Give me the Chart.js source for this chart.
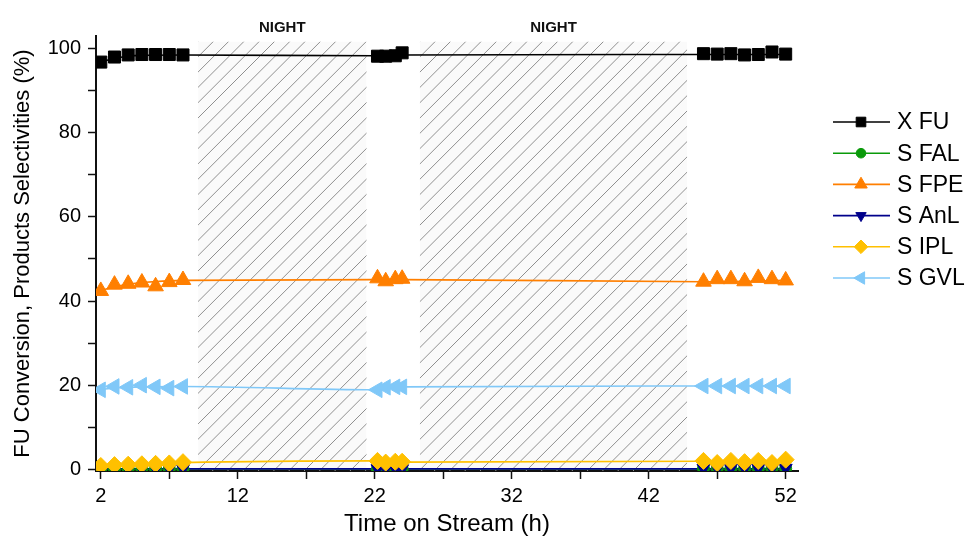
<!DOCTYPE html>
<html>
<head>
<meta charset="utf-8">
<script src="https://cdn.jsdelivr.net/npm/chart.js@4.4.1/dist/chart.umd.min.js"></script>
<style>
  html, body { margin: 0; padding: 0; background: #fff; }
</style>
</head>
<body>
<canvas id="chart" width="969" height="547"></canvas>
<script>
// sampling times (h) of the three day runs
const hours = [2, 3, 4, 5, 6, 7, 8, 22.2, 22.8, 23.5, 24, 46, 47, 48, 49, 50, 51, 52];

// measured points
const xFU  = [96.8, 98.0, 98.5, 98.6, 98.6, 98.6, 98.5, 98.2, 98.2, 98.3, 99.0, 98.8, 98.7, 98.8, 98.5, 98.6, 99.2, 98.7];
const sFAL = [0.1, 0.1, 0.1, 0.1, 0.1, 0.1, 0.1, 0.1, 0.1, 0.1, 0.1, 0.2, 0.2, 0.2, 0.2, 0.2, 0.2, 0.2];
const sFPE = [42.4, 43.9, 44.1, 44.4, 43.5, 44.5, 45.0, 45.4, 44.7, 45.2, 45.3, 44.6, 45.2, 45.2, 44.7, 45.5, 45.2, 44.9];
const sAnL = [0.2, 0.2, 0.2, 0.2, 0.2, 0.2, 0.2, 0.2, 0.2, 0.2, 0.2, 0.3, 0.3, 0.3, 0.3, 0.3, 0.3, 0.3];
const sIPL = [0.8, 1.0, 1.1, 1.2, 1.3, 1.4, 1.7, 2.0, 1.6, 1.8, 1.8, 2.0, 1.5, 2.0, 1.7, 2.0, 1.5, 2.3];
const sGVL = [18.9, 19.7, 19.5, 20.0, 19.6, 19.3, 19.7, 18.9, 19.5, 19.6, 19.6, 19.8, 19.8, 19.8, 19.8, 19.8, 19.8, 19.8];

// smooth trend lines
const fitHours = [2, 3, 4, 5, 8, 22, 24, 46, 52];
const fitFU  = [96.8, 97.7, 98.2, 98.4, 98.5, 98.3, 98.5, 98.6, 98.6];
const fitFAL = [0.1, 0.1, 0.1, 0.1, 0.1, 0.1, 0.1, 0.1, 0.1];
const fitFPE = [42.5, 43.4, 44.0, 44.4, 44.9, 45.1, 45.1, 44.6, 44.9];
const fitAnL = [0.1, 0.1, 0.1, 0.1, 0.1, 0.1, 0.1, 0.1, 0.1];
const fitIPL = [0.8, 1.0, 1.2, 1.3, 1.6, 2.0, 1.7, 1.9, 2.1];
const fitGVL = [19.0, 19.3, 19.5, 19.6, 19.7, 18.9, 19.6, 19.8, 19.8];

const seriesNames = ['X FU', 'S FAL', 'S FPE', 'S AnL', 'S IPL', 'S GVL'];

// night periods (h)
const nightSpans = [[9.1, 21.4], [25.3, 44.8]];
const nightTop = 101.7;
const nightLabel = 'NIGHT';

const xTicks = [2, 7, 12, 17, 22, 27, 32, 37, 42, 47, 52];
const xLabels = [2, 12, 22, 32, 42, 52];
const yTicks = [0, 10, 20, 30, 40, 50, 60, 70, 80, 90, 100];
const yLabels = [0, 20, 40, 60, 80, 100];

const FONT = "'Liberation Sans', Arial, Helvetica, sans-serif";

const styles = [
  { color: '#000000', point: 'rect',     rot: 0,   r: 8.5 },
  { color: '#0a9a0a', point: 'circle',   rot: 0,   r: 6 },
  { color: '#ff7f00', point: 'triangle', rot: 0,   r: 9 },
  { color: '#00008b', point: 'triangle', rot: 180, r: 7.5 },
  { color: '#ffc000', point: 'rectRot',  rot: 0,   r: 8.5 },
  { color: '#80c8f8', point: 'triangle', rot: -90, r: 9 }
];
const points = [xFU, sFAL, sFPE, sAnL, sIPL, sGVL];
const fits = [fitFU, fitFAL, fitFPE, fitAnL, fitIPL, fitGVL];

const datasets = [];
seriesNames.forEach((name, i) => {
  const st = styles[i];
  datasets.push({
    label: name + ' fit',
    data: fitHours.map((h, k) => ({ x: h, y: fits[i][k] })),
    borderColor: st.color,
    borderWidth: 1.6,
    pointRadius: 0,
    cubicInterpolationMode: 'monotone',
    order: 30 - i
  });
  datasets.push({
    label: name,
    data: hours.map((h, k) => ({ x: h, y: points[i][k] })),
    showLine: false,
    pointStyle: st.point,
    pointRotation: st.rot,
    pointRadius: st.r,
    backgroundColor: st.color,
    borderColor: st.color,
    pointBorderWidth: 1,
    order: 10 - i
  });
});

const nightPlugin = {
  id: 'night',
  beforeDatasetsDraw(chart) {
    const { ctx, chartArea, scales: { x, y } } = chart;
    nightSpans.forEach(([a, b]) => {
      const left = x.getPixelForValue(a);
      const right = x.getPixelForValue(b);
      const top = y.getPixelForValue(nightTop);
      const bottom = chartArea.bottom;
      const h = bottom - top;
      ctx.save();
      ctx.beginPath();
      ctx.rect(left, top, right - left, h);
      ctx.clip();
      ctx.fillStyle = 'rgba(0,0,0,0.02)';
      ctx.fillRect(left, top, right - left, h);
      ctx.strokeStyle = '#8f8f8f';
      ctx.lineWidth = 1;
      ctx.beginPath();
      for (let sx = left - h; sx < right + 20; sx += 15.3) {
        ctx.moveTo(sx, bottom);
        ctx.lineTo(sx + h, top);
      }
      ctx.stroke();
      ctx.restore();

      ctx.save();
      ctx.fillStyle = '#111';
      ctx.font = 'bold 15px ' + FONT;
      ctx.textAlign = 'center';
      ctx.textBaseline = 'middle';
      ctx.fillText(nightLabel, (left + right) / 2, 28);
      ctx.restore();
    });
  }
};

const legendPlugin = {
  id: 'sideLegend',
  afterDraw(chart) {
    const ctx = chart.ctx;
    const x0 = 833, x1 = 890, xm = 861, xt = 897;
    seriesNames.forEach((name, i) => {
      const st = styles[i];
      const yy = 122 + i * 31.2;
      ctx.save();
      ctx.strokeStyle = st.color;
      ctx.fillStyle = st.color;
      ctx.lineWidth = 1.6;
      ctx.beginPath();
      ctx.moveTo(x0, yy);
      ctx.lineTo(x1, yy);
      ctx.stroke();
      ctx.lineWidth = 1;
      Chart.helpers.drawPoint(ctx, {
        pointStyle: st.point, rotation: st.rot, radius: st.r * 0.8, borderWidth: 1
      }, xm, yy);
      ctx.fillStyle = '#000';
      ctx.font = '23px ' + FONT;
      ctx.textAlign = 'left';
      ctx.textBaseline = 'middle';
      ctx.fillText(name, xt, yy + 1);
      ctx.restore();
    });
  }
};

new Chart(document.getElementById('chart'), {
  type: 'line',
  data: { datasets },
  plugins: [nightPlugin, legendPlugin],
  options: {
    responsive: false,
    animation: false,
    devicePixelRatio: 1,
    layout: { padding: { top: 36, right: 171, left: 0, bottom: 0 } },
    plugins: { legend: { display: false }, tooltip: { enabled: false } },
    scales: {
      x: {
        type: 'linear',
        min: 1.65,
        max: 52.9,
        afterBuildTicks: s => { s.ticks = xTicks.map(v => ({ value: v })); },
        afterFit: s => { s.height = 76; },
        border: { display: true, color: '#111', width: 2 },
        grid: { drawOnChartArea: false, drawTicks: true, tickLength: 8, tickColor: '#111', tickWidth: 1.5 },
        ticks: {
          color: '#000', padding: 5, maxRotation: 0, autoSkip: false,
          font: { family: FONT, size: 20 },
          callback: v => xLabels.includes(v) ? String(v) : ''
        },
        title: {
          display: true, text: 'Time on Stream (h)', color: '#000',
          font: { family: FONT, size: 24 }, padding: { top: 0, bottom: 8 }
        }
      },
      y: {
        type: 'linear',
        min: -0.4,
        max: 103,
        afterBuildTicks: s => { s.ticks = yTicks.map(v => ({ value: v })); },
        afterFit: s => { s.width = 96; },
        border: { display: true, color: '#111', width: 2 },
        grid: { drawOnChartArea: false, drawTicks: true, tickLength: 8, tickColor: '#111', tickWidth: 1.5 },
        ticks: {
          color: '#000', padding: 7, autoSkip: false,
          font: { family: FONT, size: 20 },
          callback: v => yLabels.includes(v) ? String(v) : ''
        },
        title: {
          display: true, text: 'FU Conversion, Products Selectivities (%)', color: '#000',
          font: { family: FONT, size: 22 }, padding: { top: 10, bottom: 0 }
        }
      }
    }
  }
});
</script>
</body>
</html>
